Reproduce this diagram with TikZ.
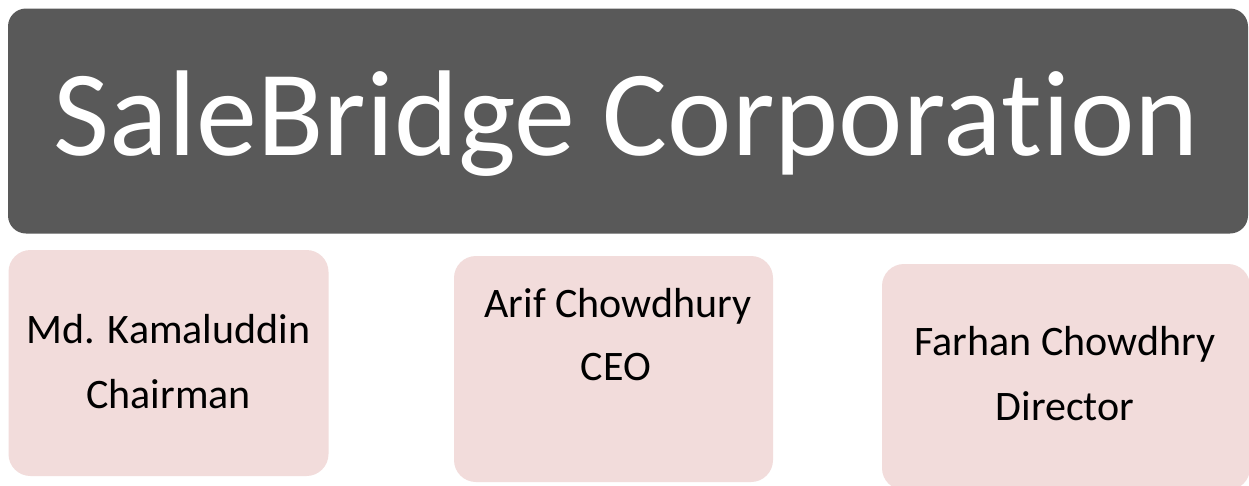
\documentclass[tikz,border=0pt]{standalone}
\usepackage{fontspec}
\setmainfont{Carlito}[Ligatures={NoCommon,NoDiscretionary,NoContextual}]
\definecolor{darkbox}{HTML}{595959}
\definecolor{pinkbox}{HTML}{F2DCDB}
\begin{document}
\begin{tikzpicture}[x=1pt,y=-1pt,
  titlebox/.style={fill=darkbox,rounded corners=18pt,inner sep=0pt,draw=none},
  personbox/.style={fill=pinkbox,rounded corners=22pt,inner sep=0pt,draw=none},
  titletext/.style={text=white,font=\fontsize{122}{140}\selectfont,inner sep=0pt,anchor=base},
  persontext/.style={text=black,font=\fontsize{42}{50}\selectfont,inner sep=0pt,anchor=base}]
\useasboundingbox (0,0) rectangle (1249,485);
\clip (0,0) rectangle (1249,485);
\fill[white] (0,0) rectangle (1249,485);
% boxes
\node[titlebox,minimum width=1240pt,minimum height=225pt] (corp) at (628,121) {};
\node[personbox,minimum width=320pt,minimum height=226pt] (chair) at (168.5,363) {};
\node[personbox,minimum width=319pt,minimum height=226pt] (ceo) at (613.5,369) {};
\node[personbox,minimum width=368pt,minimum height=226pt] (dir) at (1066,377) {};
% texts
\node[titletext] (corpT) at (626.5,155) {SaleBridge Corpora\kern0pt tion};
\node[persontext] (chairA) at (168.5,343) {Md. Kamaluddin};
\node[persontext] (chairB) at (168.5,408) {Chairman};
\node[persontext] (ceoA) at (618,317) {Arif Chowdhury};
\node[persontext] (ceoB) at (616,380) {CEO};
\node[persontext] (dirA) at (1065,355) {Farhan Chowdhry};
\node[persontext] (dirB) at (1065,420) {Director};
\end{tikzpicture}
\end{document}
